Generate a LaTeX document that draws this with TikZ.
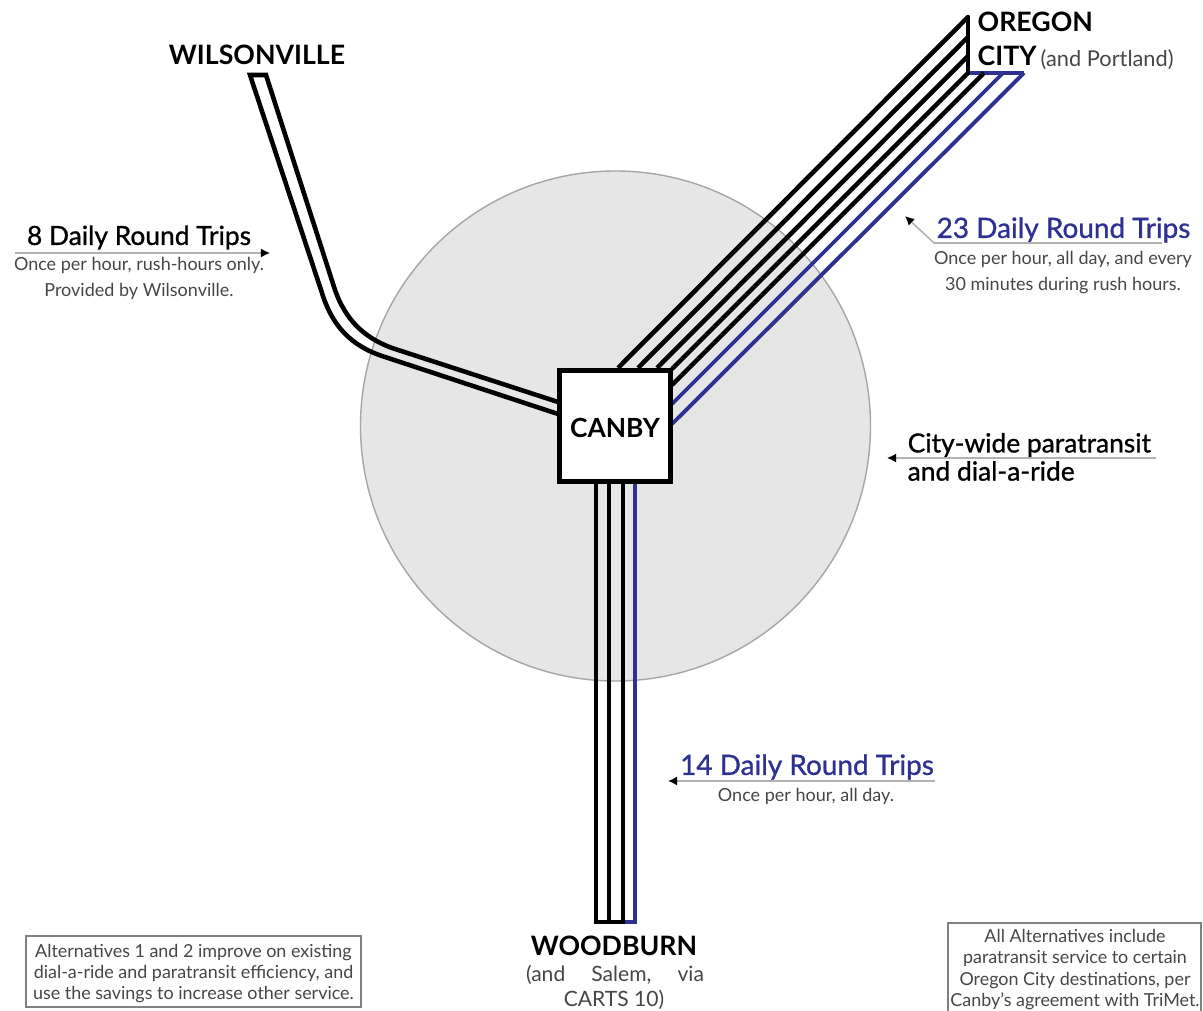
\documentclass[tikz,border=0pt]{standalone}
\usepackage{fontspec}
\setmainfont{Lato}
\newfontfamily\mediumfont[FakeBold=1]{Lato}
\usepackage{tikz}
\usetikzlibrary{arrows.meta}
\definecolor{trackblue}{RGB}{46,49,146}
\definecolor{circlegray}{RGB}{230,230,230}
\definecolor{notegray}{RGB}{70,70,70}
\tikzset{
  track/.style={line width=1.3pt,black},
  bluetrack/.style={line width=1.1pt,trackblue},
  place/.style={font=\fontsize{7.6}{9}\selectfont\bfseries,inner sep=0pt},
  head/.style={font=\fontsize{7.5}{9}\mediumfont,inner sep=0pt},
  bluehead/.style={font=\fontsize{7.95}{9}\mediumfont,text=trackblue,inner sep=0pt},
  note/.style={font=\fontsize{5.12}{7.6}\selectfont,text=notegray,inner sep=0pt,align=center},
  boxnote/.style={font=\fontsize{5.1}{6.05}\selectfont,text=notegray,inner sep=0pt,align=center},
  subnote/.style={font=\fontsize{6}{7.6}\selectfont,text=notegray,inner sep=0pt},
  pointer/.style={line width=0.45pt,gray!60,-{Latex[black,length=2.6pt,width=2.6pt]}},
  notebox/.style={draw=gray,line width=0.5pt,fill=white,inner sep=0pt}
}
\begin{document}
\begin{tikzpicture}
\useasboundingbox (0,0) rectangle (12.03,-10.11);

\node[circle,draw=gray!70,line width=0.4pt,fill=circlegray,minimum size=5.1cm,inner sep=0pt] (zone) at (6.155,-4.26) {};

% Wilsonville
\coordinate (wa) at (2.50,-0.75);
\coordinate (wb) at (2.66,-0.75);
\coordinate (wc) at (3.35,-2.90);
\coordinate (wd) at (3.92,-3.48);
\coordinate (we) at (5.58,-4.02);
\coordinate (wf) at (5.58,-4.14);
\coordinate (wg) at (3.85,-3.57);
\coordinate (wh) at (3.22,-2.93);
\draw[track,line join=miter] (we) -- (wd) .. controls (3.62,-3.37) and (3.45,-3.18) .. (wc) -- (wb) -- (wa) -- (wh) .. controls (3.32,-3.25) and (3.50,-3.46) .. (wg) -- (wf);

% Oregon City
\coordinate (od2) at (9.68,-0.73);
\coordinate (og2) at (10.24,-0.73);
\draw[bluetrack] (od2) -- (og2);
\foreach \name/\xa/\ya/\xb/\yb in {a/6.18/3.68/9.68/0.17,b/6.38/3.68/9.68/0.37,c/6.57/3.68/9.68/0.56,d/6.72/3.69/9.68/0.73,e/6.72/3.85/9.84/0.73}{
  \coordinate (o\name) at (\xa,-\ya);
  \coordinate (o\name2) at (\xb,-\yb);
  \draw[track] (o\name) -- (o\name2);
}
\coordinate (of) at (6.72,-4.04);
\coordinate (of2) at (10.03,-0.73);
\coordinate (og) at (6.72,-4.24);
\draw[bluetrack] (of) -- (of2);
\draw[bluetrack] (og) -- (og2);
\draw[track,line cap=round] (oa2) -- (od2);

% Woodburn
\coordinate (ba) at (6.35,-4.8);
\coordinate (bb) at (6.35,-9.22);
\coordinate (bc) at (6.23,-9.22);
\coordinate (bd) at (5.96,-9.22);
\draw[bluetrack] (ba) -- (bb) -- (bc);
\foreach \xpos in {5.96,6.09,6.23}
  \draw[track] (\xpos,-4.8) -- (\xpos,-9.22);
\draw[track,line cap=rect] (bd) -- (bc);

\node[draw,line width=1.45pt,fill=white,minimum size=1.11cm,inner sep=0pt] (canby) at (6.15,-4.26) {};
\node[font=\fontsize{7.5}{9}\selectfont\bfseries,inner sep=0pt] (canbyname) at (6.15,-4.28) {CANBY};

\node[place] (wilson) at (2.57,-0.55) {WILSONVILLE};
\node[place,anchor=west] (oregon) at (9.77,-0.22) {OREGON};
\node[place,anchor=west] (city) at (9.77,-0.56) {CITY};
\node[subnote,anchor=west,font=\fontsize{6.2}{7}\selectfont] (portland) at (10.40,-0.595) {(and Portland)};
\node[place] (woodburn) at (6.14,-9.46) {WOODBURN};
\node[subnote] (salem) at (6.15,-9.75) {\makebox[1.78cm][s]{(and\hfill Salem,\hfill via}};
\node[subnote] (carts) at (6.14,-10.0) {CARTS 10)};

% trips
\node[head] (eight) at (1.39,-2.375) {8 Daily Round Trips};
\coordinate (ea) at (0.15,-2.53);
\coordinate (eb) at (2.70,-2.53);
\draw[pointer] (ea) -- (eb);
\node[note] (eightnote) at (1.39,-2.785) {Once per hour, rush-hours only.\\Provided by Wilsonville.};

\node[bluehead] (twenty) at (10.635,-2.30) {23 Daily Round Trips};
\coordinate (ta) at (11.62,-2.43);
\coordinate (tb) at (9.34,-2.43);
\coordinate (tc) at (9.05,-2.16);
\draw[pointer] (ta) -- (tb) -- (tc);
\node[note] (twentynote) at (10.63,-2.725) {Once per hour, all day, and every\\30 minutes during rush hours.};

\node[head,anchor=west] (city1) at (9.07,-4.45) {City-wide paratransit};
\node[head,anchor=west] (city2) at (9.07,-4.71) {and dial-a-ride};
\coordinate (ca) at (11.56,-4.58);
\coordinate (cb) at (8.87,-4.58);
\draw[pointer] (ca) -- (cb);

\node[bluehead] (fourteen) at (8.07,-7.67) {14 Daily Round Trips};
\coordinate (fa) at (9.35,-7.81);
\coordinate (fb) at (6.68,-7.81);
\draw[pointer] (fa) -- (fb);
\node[note] (fourteennote) at (8.06,-7.965) {Once per hour, all day.};

% boxes
\node[notebox,minimum width=3.35cm,minimum height=0.71cm] (leftbox) at (1.935,-9.715) {};
\node[boxnote] (lefttext) at (1.935,-9.735) {Alternatives 1 and 2 improve on existing\\dial-a-ride and paratransit efficiency, and\\use the savings to increase other service.};
\node[notebox,minimum width=2.53cm,minimum height=1.0cm] (rightbox) at (10.745,-9.73) {};
\node[boxnote] (righttext) at (10.75,-9.695) {All Alternatives include\\paratransit service to certain\\Oregon City destinations, per\\Canby's agreement with TriMet.};
\end{tikzpicture}
\end{document}
